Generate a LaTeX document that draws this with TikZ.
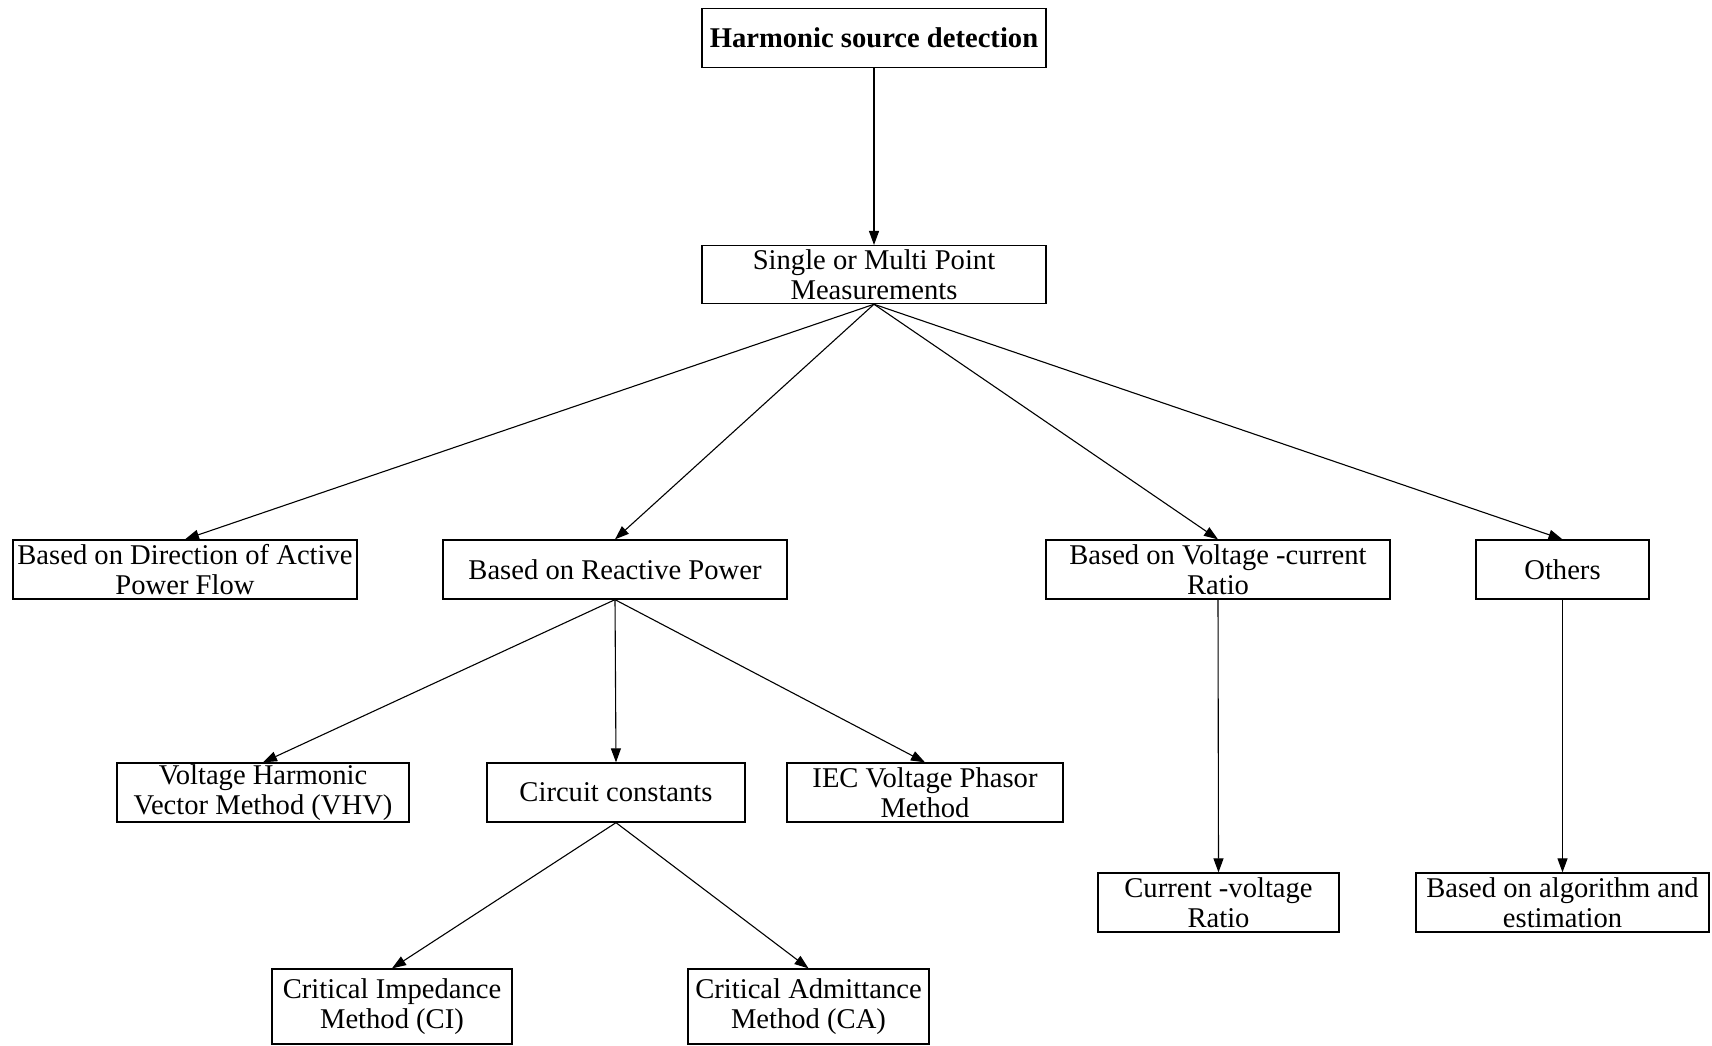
\documentclass[tikz,border=0pt]{standalone}
\usepackage{fontspec}
\setmainfont{Liberation Serif}
\usetikzlibrary{arrows.meta}
\begin{document}
\begin{tikzpicture}[x=1pt,y=-1pt,
  box/.style={draw=black,line width=1.3pt,rectangle,inner sep=0pt,align=center,
    minimum height=59pt,font=\fontsize{28.6}{29.5}\selectfont},
  link/.style={draw=black,line width=1.1pt,-{Triangle[length=14pt,width=10pt]}}]
\useasboundingbox (0,0) rectangle (1712,1045);
% level 0 and 1
\node[box,minimum width=344pt,font=\fontsize{28.6}{29.5}\selectfont\bfseries] (top) at (874,38) {Harmonic source detection};
\node[box,minimum width=344pt,minimum height=58pt] (smp) at (874,274.6) {Single or Multi Point\\Measurements};
% level 2
\node[box,minimum width=344pt] (act) at (185,569.5) {Based on Direction of Active\\Power Flow};
\node[box,minimum width=344pt] (rea) at (615,569.5) {Based on Reactive Power};
\node[box,minimum width=344pt] (vc) at (1218,569.5) {Based on Voltage -current\\Ratio};
\node[box,minimum width=173pt] (oth) at (1562.5,569.5) {Others};
% level 3
\node[box,minimum width=292pt] (vhv) at (263,792.5) {Voltage Harmonic\\Vector Method (VHV)};
\node[box,minimum width=258pt] (cir) at (616,792.5) {Circuit constants};
\node[box,minimum width=276pt] (iec) at (925,792.5) {IEC Voltage Phasor\\Method};
\node[box,minimum width=241pt] (cvr) at (1218.5,902.5) {Current -voltage\\Ratio};
\node[box,minimum width=293pt] (alg) at (1562.5,902.5) {Based on algorithm and\\estimation};
% level 4
\node[box,minimum width=240pt,minimum height=75pt] (ci) at (392,1006.5) {Critical Impedance\\Method (CI)};
\node[box,minimum width=241pt,minimum height=75pt] (ca) at (808.5,1006.5) {Critical Admittance\\Method (CA)};
% connectors
\draw[link] (top.south) -- (smp.north);
\draw[link] (smp.south) -- (act.north);
\draw[link] (smp.south) -- (rea.north);
\draw[link] (smp.south) -- (vc.north);
\draw[link] (smp.south) -- (oth.north);
\draw[link] (rea.south) -- (vhv.north);
\draw[link] (rea.south) -- (cir.north);
\draw[link] (rea.south) -- (iec.north);
\draw[link] (vc.south) -- (cvr.north);
\draw[link] (oth.south) -- (alg.north);
\draw[link] (cir.south) -- (ci.north);
\draw[link] (cir.south) -- (ca.north);
\end{tikzpicture}
\end{document}
